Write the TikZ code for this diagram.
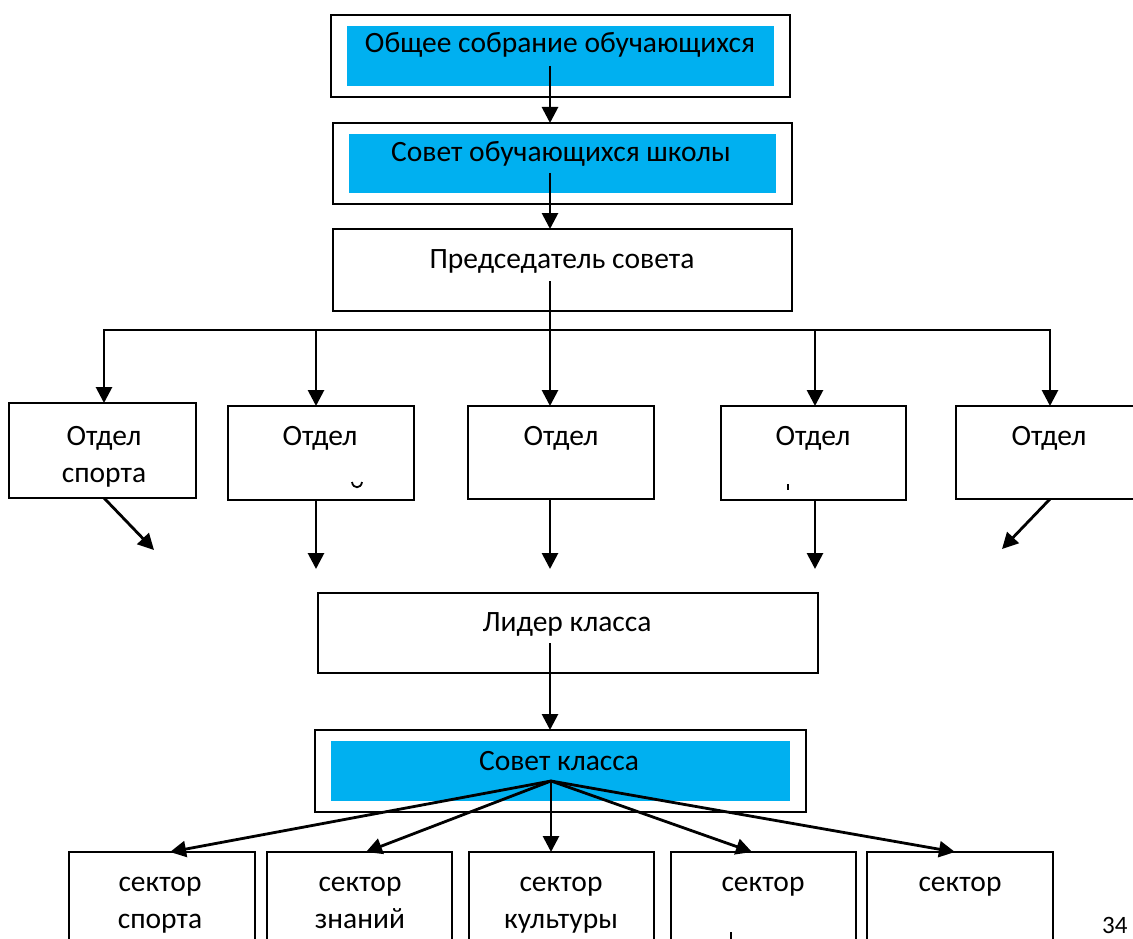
\documentclass[tikz,border=0pt]{standalone}
\usepackage{fontspec}
\setmainfont{Carlito}
\usetikzlibrary{arrows.meta,calc}
\definecolor{wblue}{HTML}{00B0F0}
\begin{document}
\begin{tikzpicture}[x=1pt,y=-1pt,
  box/.style={draw,line width=1.8pt,inner sep=0pt,outer sep=0pt,anchor=north west},
  fillbox/.style={fill=wblue,draw=none,inner sep=0pt,outer sep=0pt,anchor=north west},
  lbl/.style={anchor=base,inner sep=0pt,font=\fontsize{29.5}{34}\selectfont},
  ln/.style={line width=2.8pt},
  arr/.style={line width=2.8pt,-{Triangle[length=16pt,width=16pt]}}
]
\useasboundingbox (0,0) rectangle (1133,939);
\clip (0,0) rectangle (1133,939);

% top double boxes
\node[box,minimum width=459pt,minimum height=82pt] (b1) at (331,15) {};
\node[fillbox,minimum width=427pt,minimum height=60pt] (f1) at (347,26) {};
\node[lbl] (t1) at (560,53) {Общее собрание обучающихся};

\node[box,minimum width=459pt,minimum height=81pt] (b2) at (333,123) {};
\node[fillbox,minimum width=427pt,minimum height=59pt] (f2) at (349,134) {};
\node[lbl] (t2) at (561,162) {Совет обучающихся школы};

\node[box,minimum width=459pt,minimum height=82pt] (b3) at (333,229) {};
\node[lbl] (t3) at (562,268) {Председатель совета};

\coordinate (a1) at (550,66);
\coordinate (a2) at (550,173);
\coordinate (a3) at (550,281);
\draw[arr] (a1) -- (a1 |- b2.north);
\draw[arr] (a2) -- (a2 |- b3.north);

% departments
\node[box,minimum width=187pt,minimum height=95pt] (o1) at (9,403) {};
\node[box,minimum width=186pt,minimum height=94pt] (o2) at (228,406) {};
\node[box,minimum width=186pt,minimum height=93pt] (o3) at (468,406) {};
\node[box,minimum width=185pt,minimum height=94pt] (o4) at (721,406) {};
\node[box,minimum width=200pt,minimum height=93pt] (o5) at (956,406) {};

\node[lbl] (to1) at (104,445) {Отдел};
\node[lbl] (to1b) at (104,482) {спорта};
\node[lbl] (to2) at (320,445) {Отдел};
\node[lbl] (to3) at (561,445) {Отдел};
\node[lbl] (to4) at (813,445) {Отдел};
\node[lbl] (to5) at (1049,445) {Отдел};

% clipped glyph fragments
\draw[line width=1.8pt] (352,482) .. controls (353,489) and (361,489) .. (362,482);
\draw[line width=2.2pt] (788,484) -- (788,490);

\coordinate (h1) at (104,330);
\coordinate (h2) at (316,330);
\coordinate (h4) at (815,330);
\coordinate (h5) at (1050,330);
\draw[ln,line cap=rect] (h1) -- (h5);
\draw[arr] (h1) -- (h1 |- o1.north);
\draw[arr] (h2) -- (h2 |- o2.north);
\draw[arr] (a3) -- (a3 |- o3.north);
\draw[arr] (h4) -- (h4 |- o4.north);
\draw[arr] (h5) -- (h5 |- o5.north);

% arrows out of departments
\coordinate (e1) at (154,550);
\coordinate (e2) at (316,569);
\coordinate (e3) at (550,569);
\coordinate (e4) at (815,569);
\coordinate (e5) at (1002,549);
\draw[arr] ($(o1.south west)+(95,0)$) -- (e1);
\draw[arr] (e2 |- o2.south) -- (e2);
\draw[arr] (e3 |- o3.south) -- (e3);
\draw[arr] (e4 |- o4.south) -- (e4);
\draw[arr] ($(o5.south west)+(94,0)$) -- (e5);

% class leader
\node[box,minimum width=500pt,minimum height=80pt] (lead) at (318,593) {};
\node[lbl] (tl) at (567,631) {Лидер класса};
\coordinate (a4) at (550,643);

% class council
\node[box,minimum width=491pt,minimum height=82pt] (cc) at (315,730) {};
\node[fillbox,minimum width=459pt,minimum height=60pt] (fc) at (331,741) {};
\node[lbl] (tc) at (559,770) {Совет класса};
\draw[arr] (a4) -- (a4 |- cc.north);

% sectors
\node[box,minimum width=186pt,minimum height=120pt] (s1) at (69,852) {};
\node[box,minimum width=185pt,minimum height=120pt] (s2) at (267,852) {};
\node[box,minimum width=185pt,minimum height=120pt] (s3) at (469,852) {};
\node[box,minimum width=185pt,minimum height=120pt] (s4) at (671,852) {};
\node[box,minimum width=186pt,minimum height=120pt] (s5) at (867,852) {};

\node[lbl] (ts1) at (160,891) {сектор};
\node[lbl] (ts1b) at (160,928) {спорта};
\node[lbl] (ts2) at (360,891) {сектор};
\node[lbl] (ts2b) at (360,928) {знаний};
\node[lbl] (ts3) at (561,891) {сектор};
\node[lbl] (ts3b) at (561,928) {культуры};
\node[lbl] (ts4) at (763,891) {сектор};
\node[lbl] (ts5) at (960,891) {сектор};
\draw[line width=2.2pt] (731,932) -- (731,940);

\node[lbl,anchor=base west,font=\fontsize{25}{30}\selectfont] (pg) at (1102,933) {34};

\coordinate (hub) at (551,781);
\draw[arr] (hub) -- ($(s1.north west)+(101,0)$);
\draw[arr] (hub) -- ($(s2.north west)+(99,0)$);
\draw[arr] (hub) -- ($(s3.north west)+(82,0)$);
\draw[arr] (hub) -- ($(s4.north west)+(81,0)$);
\draw[arr] (hub) -- ($(s5.north west)+(88,0)$);
\end{tikzpicture}
\end{document}
